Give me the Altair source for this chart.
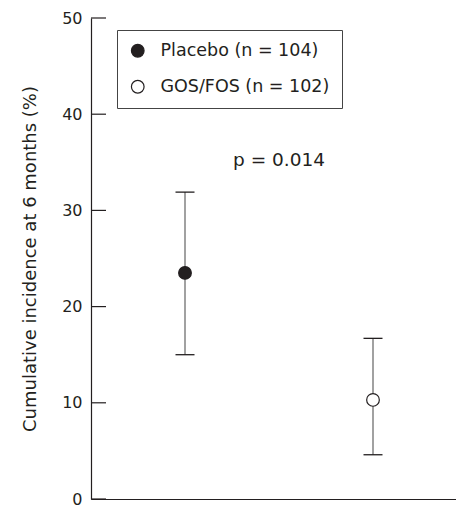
import altair as alt
import pandas as pd

# ---- data ----
groups = ["Placebo (n = 104)", "GOS/FOS (n = 102)"]
positions = [1, 3]
incidence = [23.5, 10.3]
ci_low = [15.0, 4.6]
ci_high = [31.9, 16.7]
y_ticks = [0, 10, 20, 30, 40, 50]
p_label = ["p = 0.014"]
p_x = [2]
p_y = [35.2]

df = pd.DataFrame({"group": groups, "x": positions, "y": incidence,
                   "lo": ci_low, "hi": ci_high})
ticks_df = pd.DataFrame({"t": y_ticks})
ann_df = pd.DataFrame({"label": p_label, "x": p_x, "y": p_y})

W, H = 365, 481
ink = "#231f20"
font = "DejaVu Sans"

xscale = alt.Scale(domain=[0, W / 94], nice=False, zero=False)
yscale = alt.Scale(domain=[0, 50], nice=False)

xaxis = alt.Axis(title=None, labels=False, ticks=False, grid=False,
                 domainColor=ink, domainWidth=1.2)
yaxis = alt.Axis(values=y_ticks, title="Cumulative incidence at 6 months (%)",
                 ticks=False, grid=False, domainColor=ink, domainWidth=1.2,
                 labelPadding=9, labelFontSize=16, labelFont=font,
                 labelColor=ink, titleFontSize=18, titleFont=font,
                 titleFontWeight="normal", titleColor=ink,
                 titleAngle=270, titleX=-56, titleY=H / 2,
                 titleAlign="center", titleBaseline="alphabetic")


def X(field):
    return alt.X(field, type="quantitative", scale=xscale, axis=xaxis)


def Y(field):
    return alt.Y(field, type="quantitative", scale=yscale, axis=yaxis)


bars = alt.Chart(df).mark_rule(color="#8a8a8a", strokeWidth=1.6).encode(
    x=X("x"), y=Y("lo"), y2="hi")

cap_lo = alt.Chart(df).mark_tick(orient="horizontal", size=19, thickness=1.3,
                                 color=ink, opacity=1).encode(x=X("x"), y=Y("lo"))
cap_hi = alt.Chart(df).mark_tick(orient="horizontal", size=19, thickness=1.3,
                                 color=ink, opacity=1).encode(x=X("x"), y=Y("hi"))

points = alt.Chart(df).mark_point(filled=True, shape="circle", size=160,
                                  stroke=ink, strokeWidth=1.2, opacity=1).encode(
    x=X("x"), y=Y("y"),
    fill=alt.Fill("group:N",
                  scale=alt.Scale(domain=groups, range=[ink, "white"]),
                  legend=alt.Legend(title=None, orient="none", legendX=26, legendY=12,
                                    strokeColor="#444", fillColor="white",
                                    padding=12, rowPadding=17,
                                    symbolType="circle", symbolSize=160,
                                    symbolStrokeColor=ink, symbolStrokeWidth=1.2,
                                    labelFontSize=17.5, labelFont=font,
                                    labelColor=ink, labelOffset=14, labelLimit=400,
                                    labelExpr="datum.label + '\u00a0\u00a0\u00a0\u00a0\u00a0'")))

tick_marks = alt.Chart(ticks_df).mark_rule(color=ink, strokeWidth=1.2).encode(
    y=Y("t"), x=alt.value(0), x2=alt.value(15))

ptext = alt.Chart(ann_df).mark_text(fontSize=18.5, font=font, color=ink,
                                    align="center", baseline="middle").encode(
    x=X("x"), y=Y("y"), text="label:N")

chart = alt.layer(bars, cap_lo, cap_hi, points, tick_marks, ptext).properties(
    width=W, height=H,
    autosize=alt.AutoSizeParams(type="none"),
    padding={"left": 83, "top": 10, "right": 0, "bottom": 8},
).configure_view(stroke=None)

chart.save("out.html", embed_options={"renderer": "svg", "actions": False})
